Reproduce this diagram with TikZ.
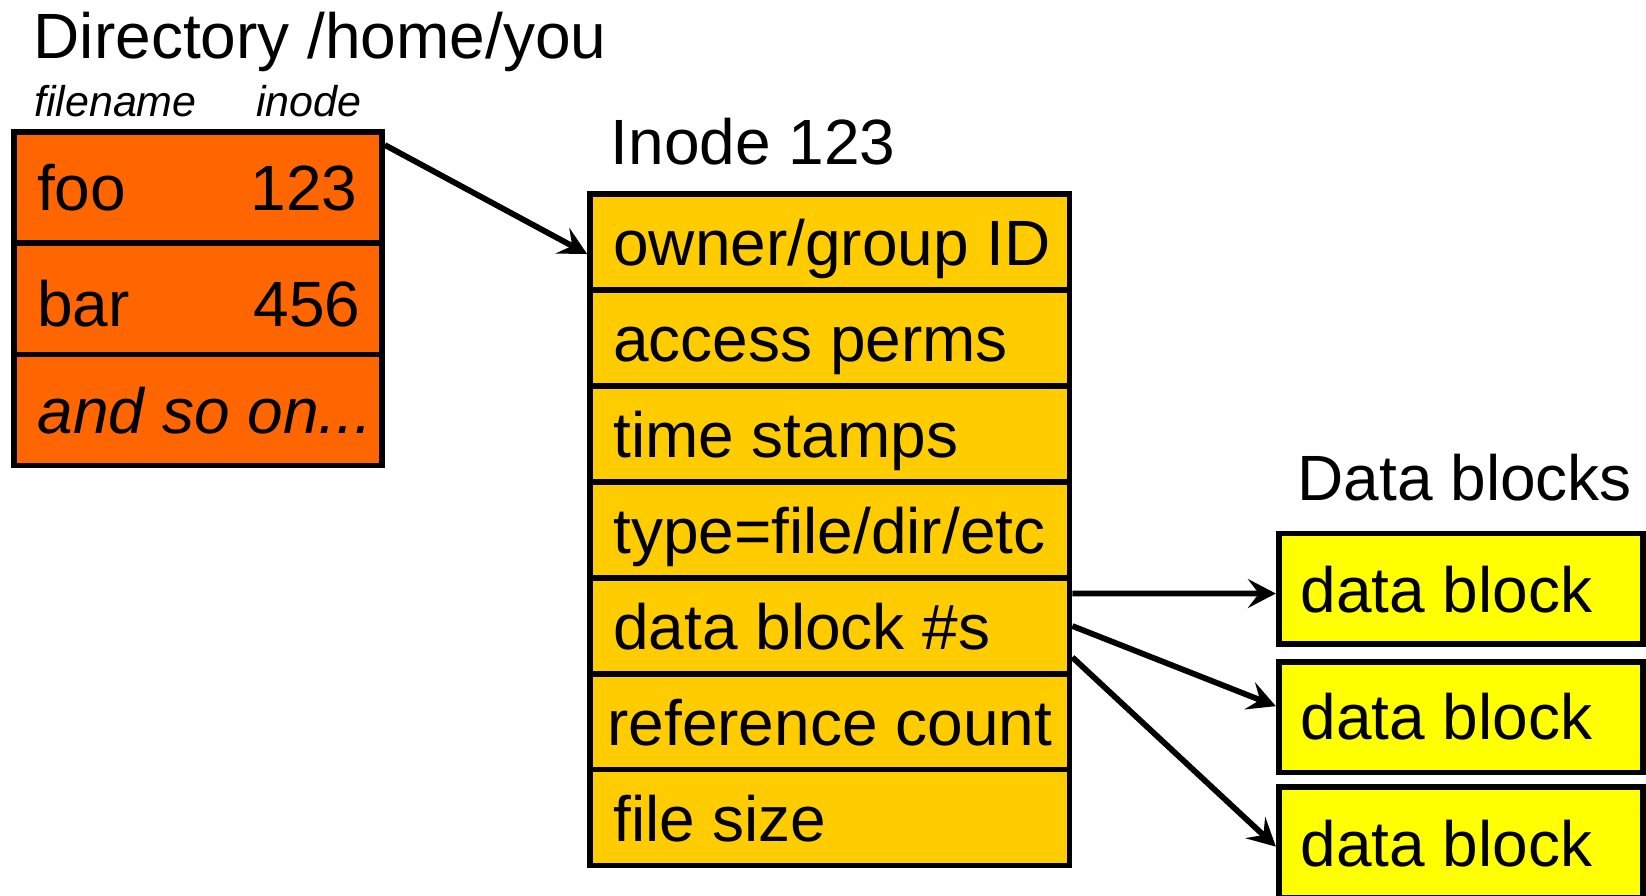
\documentclass[tikz,border=0pt]{standalone}
\usepackage{fontspec}
\setmainfont{Liberation Sans}
\usetikzlibrary{arrows.meta}

\definecolor{dirfill}{HTML}{FF6600}
\definecolor{inofill}{HTML}{FFCC00}
\definecolor{blkfill}{HTML}{FFFF00}

\tikzset{
  cell/.style={draw=black, line width=5.7pt, inner sep=0pt, outer sep=2.85pt},
  dircell/.style={cell, fill=dirfill, minimum width=367.8pt},
  inocell/.style={cell, fill=inofill, minimum width=479.5pt, minimum height=95.9pt},
  blkcell/.style={cell, fill=blkfill, minimum width=364.3pt, minimum height=110.7pt},
  big/.style={inner sep=0pt, font=\fontsize{64}{64}\selectfont},
  small/.style={inner sep=0pt, font=\fontsize{43}{43}\selectfont\itshape},
  link/.style={line width=5.8pt, -{Stealth[length=28pt,width=29pt,inset=11pt]}}
}

\begin{document}
\begin{tikzpicture}[x=1pt, y=-1pt]
\useasboundingbox (0,0) rectangle (1646,895);
\clip (0,0) rectangle (1646,895);

% directory table
\node[big, anchor=base west] (dirtitle) at (33.5,58) {Directory /home/you};
\node[small, anchor=base west] (colname) at (34,116) {filename};
\node[small, anchor=base west] (colino) at (256,116) {inode};

\node[dircell, minimum height=111pt] (dir1) at (198.1,187.3) {};
\node[dircell, minimum height=111.7pt] (dir2) at (198.1,298.65) {};
\node[dircell, minimum height=111pt] (dir3) at (198.1,410) {};

\node[big, anchor=base west] (fooname) at (37,210.7) {foo};
\node[big, anchor=base east] (foonum) at (357.5,210.7) {123};
\node[big, anchor=base west] (barname) at (37,326.7) {bar};
\node[big, anchor=base east] (barnum) at (360.8,326.7) {456};
\node[big, anchor=base west, font=\fontsize{64}{64}\selectfont\itshape] (more) at (37.5,433.3) {and so on...};

% inode
\node[big, anchor=base west] (inotitle) at (610.5,164) {Inode 123};
\foreach \i/\txt in {1/{owner/group ID},2/{access perms},3/{time stamps},4/{type=file/dir/etc},5/{data block \#s},7/{file size}}{
  \node[inocell] (ino\i) at (829.75,{194.2+95.9*(\i-0.5)}) {};
  \node[big, anchor=base west] (inotxt\i) at (613,{194.2+95.9*(\i-0.5)+23.6}) {\txt};
}
\node[inocell] (ino6) at (829.75,{194.2+95.9*5.5}) {};
\node[big, anchor=base] (inotxt6) at (829.75,{194.2+95.9*5.5+23.6}) {reference count};

% data blocks
\node[big, anchor=base west] (blktitle) at (1297.5,500.7) {Data blocks};
\node[blkcell] (blk1) at (1460.85,588.85) {};
\node[blkcell] (blk2) at (1460.85,717.15) {};
\node[blkcell] (blk3) at (1460.85,842.15) {};
\foreach \b/\y in {1/612,2/739.5,3/866}{
  \node[big, anchor=base west] (blktxt\b) at (1300.5,\y) {data block};
}

% pointers
\draw[link] ([yshift=42.3pt]dir1.east) -- ([yshift=-11.85pt]ino1.west);
\draw[link] ([yshift=32.25pt]ino5.east) -- ([yshift=-4.65pt]blk1.west);
\draw[link] ([yshift=-0.25pt]ino5.east) -- ([yshift=11pt]blk2.west);
\draw[link] ([yshift=-31.5pt]ino5.east) -- ([yshift=-4.5pt]blk3.west);
\end{tikzpicture}
\end{document}
